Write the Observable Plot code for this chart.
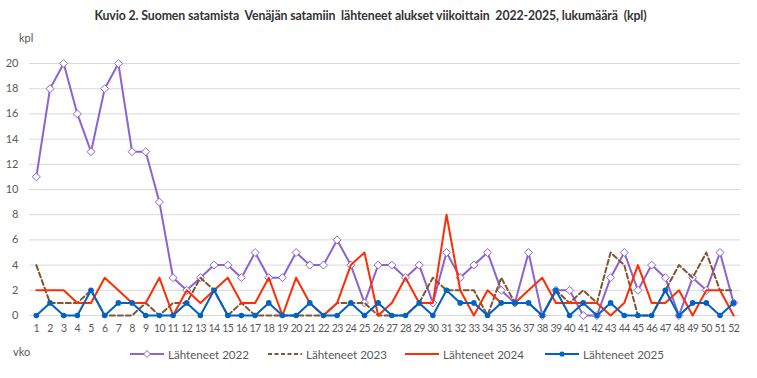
<!DOCTYPE html>
<html><head><meta charset="utf-8">
<script src="https://cdn.jsdelivr.net/npm/d3@7"></script>
<script src="https://cdn.jsdelivr.net/npm/@observablehq/plot@0.6"></script>
<style>
body{margin:0;background:#fff;}
#wrap{position:relative;width:757px;height:378px;font-family:Lato,"Open Sans",sans-serif;color:#595959;overflow:hidden;background:#fff;}
#title{position:absolute;left:-8px;width:757px;top:8px;text-align:center;font-size:12.3px;font-weight:bold;color:#333;white-space:pre;letter-spacing:-0.1px;}
.lab{position:absolute;font-size:11px;color:#595959;}
.leg{position:absolute;top:347px;font-size:11.6px;color:#595959;display:flex;align-items:center;white-space:nowrap;}
.leg svg{margin-right:4px;}
#chart{position:absolute;left:0;top:0;}
</style></head>
<body>
<div id="wrap">
  <div id="chart"></div>
  <div id="title"></div>
  <div class="lab" style="left:19px;top:31px;">kpl</div>
  <div class="lab" style="left:13px;top:345px;">vko</div>
  <div id="legend"></div>
</div>
<script>
const title = "Kuvio 2. Suomen satamista  Venäjän satamiin  lähteneet alukset viikoittain  2022-2025, lukumäärä  (kpl)";
const weeks = [1,2,3,4,5,6,7,8,9,10,11,12,13,14,15,16,17,18,19,20,21,22,23,24,25,26,27,28,29,30,31,32,33,34,35,36,37,38,39,40,41,42,43,44,45,46,47,48,49,50,51,52];
const yTicks = [0,2,4,6,8,10,12,14,16,18,20];
const seriesNames = ["Lähteneet 2022","Lähteneet 2023","Lähteneet 2024","Lähteneet 2025"];
const v2022 = [11,18,20,16,13,18,20,13,13,9, 3,2,3,4,4,3,5,3,3,5, 4,4,6,4,1,4,4,3,4,1, 5,3,4,5,2,1,5,0,2,2, 0,0,3,5,2,4,3,0,3,2, 5,1];
const v2023 = [4,1,1,1,2,0,0,0,1,0, 1,1,3,2,0,1,0,0,0,0, 0,0,1,1,1,0,0,0,1,3, 2,2,2,0,3,1,1,0,2,1, 2,1,5,4,0,0,2,4,3,5, 2,2];
const v2024 = [2,2,2,1,1,3,2,1,1,3, 0,2,1,2,3,1,1,3,0,3, 1,0,1,4,5,0,1,3,1,1, 8,2,0,2,1,1,2,3,1,1, 1,1,0,1,4,1,1,2,0,2, 2,0];
const v2025 = [0,1,0,0,2,0,1,1,0,0, 0,1,0,2,0,0,0,1,0,0, 1,0,0,1,0,1,0,0,1,0, 2,1,1,0,1,1,1,0,2,0, 1,0,1,0,0,0,2,0,1,1, 0,1];

const C22="#8C63D0", C23="#7F5632", C24="#FF2D05", C25="#0063C1";
const rows = vals => weeks.map((w,i)=>({week:w, v:vals[i]}));
const d22=rows(v2022), d23=rows(v2023), d24=rows(v2024), d25=rows(v2025);

document.getElementById("title").textContent = title;

const chart = Plot.plot({
  width:757, height:378,
  marginLeft:29, marginRight:17, marginTop:63, marginBottom:63,
  style:{fontSize:"11px", fontFamily:"Lato, 'Open Sans', sans-serif", color:"#595959", background:"transparent"},
  x:{type:"point", domain:weeks, padding:0.5},
  y:{domain:[0,20]},
  marks:[
    Plot.ruleY(yTicks, {stroke:"#d9d9d9", strokeWidth:1}),
    Plot.axisY({ticks:yTicks, tickSize:0, tickPadding:11, label:null}),
    Plot.axisX({tickSize:0, tickPadding:9, label:null, fontSize:10.5, className:"xax"}),
    Plot.line(d22, {x:"week", y:"v", stroke:C22, strokeWidth:2}),
    Plot.dot(d22, {x:"week", y:"v", symbol:"diamond2", r:3.6, stroke:C22, fill:"white", strokeWidth:1}),
    Plot.line(d23, {x:"week", y:"v", stroke:C23, strokeWidth:2, strokeDasharray:"5,3"}),
    Plot.line(d24, {x:"week", y:"v", stroke:C24, strokeWidth:2}),
    Plot.line(d25, {x:"week", y:"v", stroke:C25, strokeWidth:2}),
    Plot.dot(d25, {x:"week", y:"v", r:2.8, fill:C25, stroke:"none"})
  ]
});
document.getElementById("chart").appendChild(chart);
// tighten x tick labels (narrow font look)
chart.querySelectorAll('g[aria-label*="x-axis"] text').forEach(t=>t.setAttribute("letter-spacing","-0.6"));

// legend
const legPos = [130, 268, 405, 545];
const legend = document.getElementById("legend");
seriesNames.forEach((name,i)=>{
  const div = document.createElement("div");
  div.className = "leg";
  div.style.left = legPos[i] + "px";
  const col = [C22,C23,C24,C25][i];
  let marker = "";
  if (i===0) marker = `<path d="M17,3.5 L20.5,7 L17,10.5 L13.5,7 Z" fill="white" stroke="${col}" stroke-width="1"/>`;
  if (i===3) marker = `<circle cx="17" cy="7" r="2.6" fill="${col}"/>`;
  const dash = i===1 ? 'stroke-dasharray="4,2.5"' : '';
  div.innerHTML = `<svg width="34" height="14"><line x1="0" x2="34" y1="7" y2="7" stroke="${col}" stroke-width="2.2" ${dash}/>${marker}</svg><span>${name}</span>`;
  legend.appendChild(div);
});
</script>
</body></html>
